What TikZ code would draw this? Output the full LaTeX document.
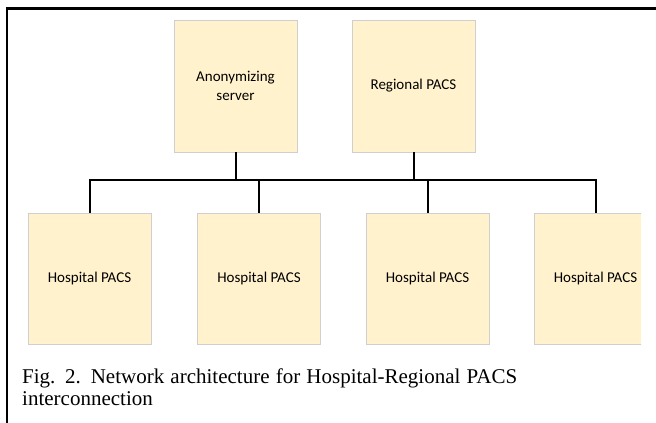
\documentclass[tikz,border=0pt]{standalone}
\usepackage{fontspec}
\setmainfont{Liberation Serif}
\newfontfamily\boxfont{Carlito}
\definecolor{boxfill}{HTML}{FFF2CC}
\definecolor{boxline}{HTML}{D0CECE}
\begin{document}
\begin{tikzpicture}[x=1pt,y=-1pt,
  box/.style={draw=boxline, line width=0.8pt, fill=boxfill, minimum width=123pt,
    inner sep=0pt, font=\boxfont\fontsize{15}{19}\selectfont, align=center},
  topbox/.style={box, minimum height=132pt},
  hbox/.style={box, minimum height=131pt},
  wire/.style={line width=2pt, line join=miter},
  frameline/.style={line width=2.5pt, line join=miter},
  captext/.style={anchor=base west, inner sep=0pt, font=\fontsize{21}{23}\selectfont}]
\useasboundingbox (0,0) rectangle (656,423);
% outer frame
\coordinate (fbot) at (7,423);
\coordinate (fcorner) at (7,8.5);
\coordinate (fright) at (656,8.5);
\draw[frameline] (fbot) -- (fcorner) -- (fright);
% top boxes
\node[topbox] (anon) at (235.5,86) {Anonymizing\\server};
\node[topbox] (reg) at (413.5,86) {Regional PACS};
% hospital boxes
\node[hbox] (h1) at (89.5,278.5) {Hospital PACS};
\node[hbox] (h2) at (259,278.5) {Hospital PACS};
\node[hbox] (h3) at (427.5,278.5) {Hospital PACS};
\begin{scope}
  \clip (0,0) rectangle (641,423);
  \node[hbox] (h4) at (595.5,278.5) {Hospital PACS};
\end{scope}
% bus
\coordinate (bus) at (0,180);
\draw[wire] (h1.north) -- (h1.north |- bus) -- (h4.north |- bus) -- (h4.north);
\draw[wire] (h2.north) -- (h2.north |- bus);
\draw[wire] (h3.north) -- (h3.north |- bus);
\draw[wire] (anon.south) -- (anon.south |- bus);
\draw[wire] (reg.south) -- (reg.south |- bus);
% caption
\node[captext] (cap1) at (22,383) {\makebox[495pt][s]{Fig. 2. Network architecture for Hospital-Regional PACS}};
\node[captext] (cap2) at (22,405) {interconnection};
\end{tikzpicture}
\end{document}
